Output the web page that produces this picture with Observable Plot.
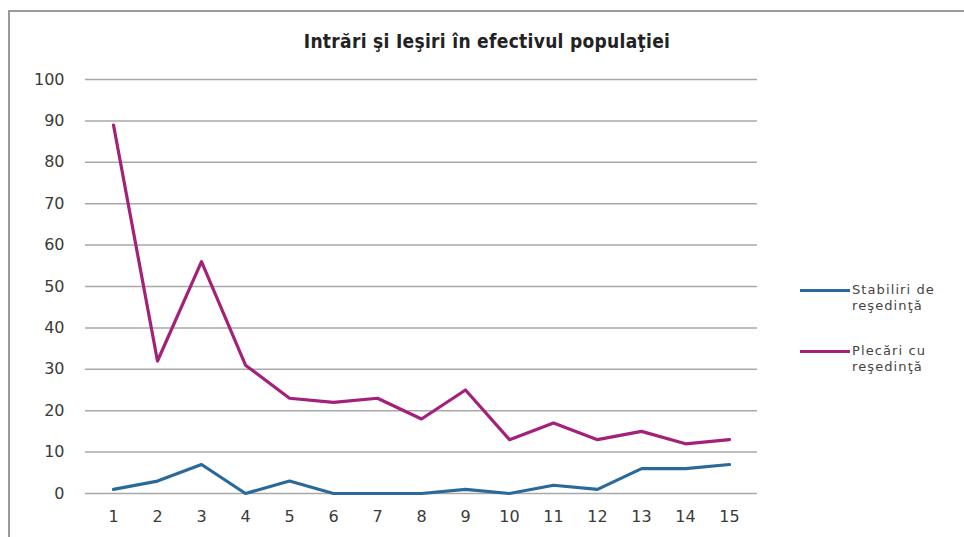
<!DOCTYPE html>
<html>
<head>
<meta charset="utf-8">
<script src="https://cdn.jsdelivr.net/npm/d3@7"></script>
<script src="https://cdn.jsdelivr.net/npm/@observablehq/plot@0.6"></script>
<style>
  html, body { margin: 0; padding: 0; width: 964px; height: 537px; overflow: hidden; background: #fff; }
  #frame { position: absolute; left: 8px; top: 10px; width: 1000px; height: 600px; border-left: 2px solid #9a9a9a; border-top: 2px solid #9a9a9a; }
  #title { position: absolute; left: 0; top: 30px; width: 974px; text-align: center; font-family: "DejaVu Sans Condensed", "DejaVu Sans", sans-serif; font-weight: bold; font-size: 19px; letter-spacing: 0.3px; color: #222; }
  #chart { position: absolute; left: 0; top: 60px; }
  .leg { position: absolute; font-family: "DejaVu Sans", sans-serif; font-size: 13px; color: #444; line-height: 16px; letter-spacing: 1.1px; }
  .legline { position: absolute; height: 3px; width: 50px; }
</style>
</head>
<body>
<div id="frame"></div>
<div id="title">Intrări şi Ieşiri în efectivul populaţiei</div>
<div id="chart"></div>
<div class="legline" style="left:800px; top:289px; background:#2a6a9a;"></div>
<div class="leg" style="left:852px; top:282px;">Stabiliri de<br>reşedinţă</div>
<div class="legline" style="left:800px; top:350px; background:#a3217a;"></div>
<div class="leg" style="left:852px; top:343px;">Plecări cu<br>reşedinţă</div>
<script>
const categories = [1, 2, 3, 4, 5, 6, 7, 8, 9, 10, 11, 12, 13, 14, 15];
const stabiliri = [1, 3, 7, 0, 3, 0, 0, 0, 1, 0, 2, 1, 6, 6, 7];
const plecari = [89, 32, 56, 31, 23, 22, 23, 18, 25, 13, 17, 13, 15, 12, 13];
const yTicks = [0, 10, 20, 30, 40, 50, 60, 70, 80, 90, 100];
const seriesNames = ["Stabiliri de reşedinţă", "Plecări cu reşedinţă"];

const dataStab = categories.map((c, i) => ({cat: c, value: stabiliri[i]}));
const dataPlec = categories.map((c, i) => ({cat: c, value: plecari[i]}));

const chart = Plot.plot({
  width: 964,
  height: 480,
  marginTop: 19,
  marginBottom: 47,
  marginLeft: 85,
  marginRight: 207,
  style: {fontFamily: "DejaVu Sans, sans-serif", fontSize: "16px", color: "#3a3a3a", background: "transparent"},
  x: {type: "point", domain: categories, padding: 0.5, label: null, tickSize: 0, tickPadding: 17},
  y: {domain: [0, 100], ticks: yTicks, label: null, tickSize: 0, tickPadding: 21},
  marks: [
    Plot.ruleY(yTicks, {stroke: "#a8a8a8", strokeWidth: 1.5}),
    Plot.line(dataStab, {x: "cat", y: "value", stroke: "#2a6a9a", strokeWidth: 3.2}),
    Plot.line(dataPlec, {x: "cat", y: "value", stroke: "#a3217a", strokeWidth: 3.2})
  ]
});
document.getElementById("chart").appendChild(chart);
</script>
</body>
</html>
